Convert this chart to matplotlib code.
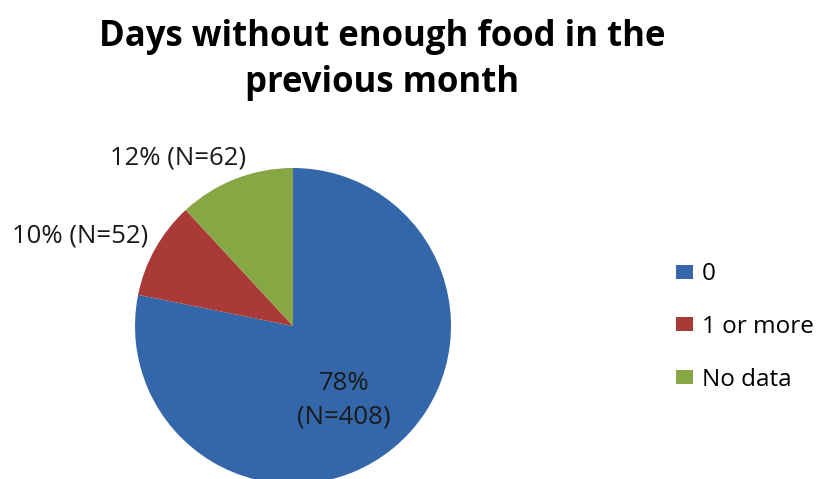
import matplotlib
matplotlib.use("Agg")
import matplotlib.pyplot as plt
from matplotlib.patches import Patch

plt.rcParams['font.family'] = ['Open Sans', 'DejaVu Sans']

###### Data
categories = ["0", "1 or more", "No data"]
counts = [408, 52, 62]
colors = ["#3467AA", "#AA3A37", "#87A744"]
title = "Days without enough food in the\nprevious month"

W, H = 821, 479
fig = plt.figure(figsize=(W / 100, H / 100), dpi=100)
fig.patch.set_facecolor("white")

# pie axes placed in pixel terms: centre (293, 326), radius 158
cx, cy, r = 293, 326, 158
ax = fig.add_axes([(cx - r) / W, (H - cy - r) / H, 2 * r / W, 2 * r / H])
wedges, _ = ax.pie(counts, colors=colors, startangle=90, counterclock=False,
                   radius=1.0, wedgeprops=dict(linewidth=0))
ax.set_xlim(-1, 1)
ax.set_ylim(-1, 1)
ax.set_aspect("equal")
ax.axis("off")

total = sum(counts)
labels = [f"{round(100 * c / total)}% (N={c})" for c in counts]
labels[0] = labels[0].replace(" ", "\n")

def px(x, y):
    return (x - cx) / r, (cy - y) / r

label_pos = [px(344, 400), px(80, 236), px(178, 158)]
for (x, y), text in zip(label_pos, labels):
    ax.text(x, y, text, ha="center", va="center", fontsize=18.5,
            color="#1a1a1a", linespacing=1.45, clip_on=False)

fig.text(382 / W, 1 - 60 / H, title, ha="center", va="center",
         fontsize=25, fontweight="bold", linespacing=1.4, color="black")

handles = [Patch(facecolor=c, edgecolor="none") for c in colors]
fig.legend(handles, categories, loc="center left",
           bbox_to_anchor=(676 / W, 1 - 327 / H), frameon=False,
           borderpad=0, borderaxespad=0,
           fontsize=17.5, handlelength=0.7, handleheight=0.5,
           handletextpad=0.37, labelspacing=1.18)

fig.savefig("out.png", dpi=100, facecolor="white")
